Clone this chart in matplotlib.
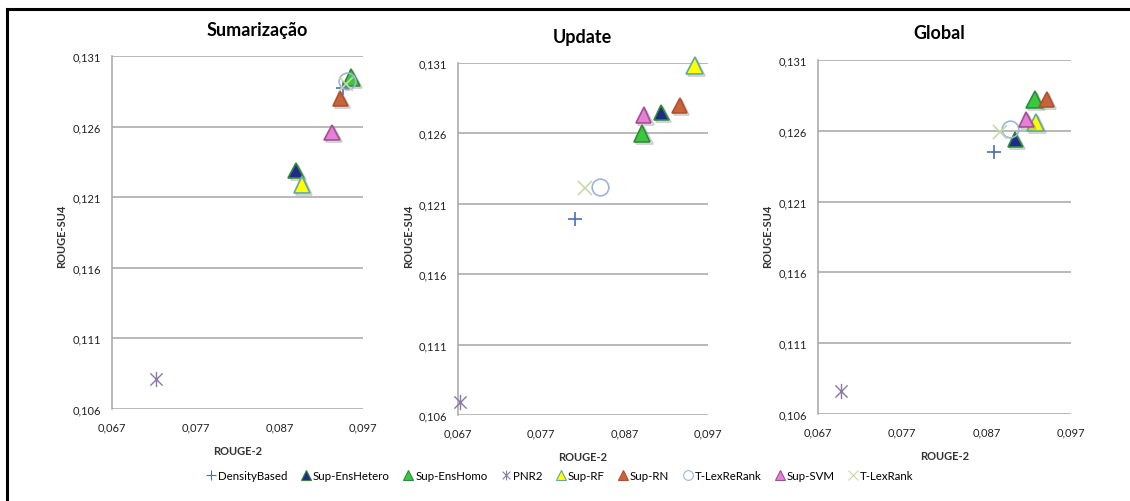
import matplotlib.pyplot as plt
from matplotlib.lines import Line2D
from matplotlib.path import Path
import matplotlib.patheffects as pe

plt.rcParams['font.family'] = ['Lato', 'DejaVu Sans']

# métodos (ordem da legenda)
metodos = ['DensityBased', 'Sup-EnsHetero', 'Sup-EnsHomo', 'PNR2', 'Sup-RF',
           'Sup-RN', 'T-LexReRank', 'Sup-SVM', 'T-LexRank']

# ROUGE-2 (x) e ROUGE-SU4 (y) por painel
sum_x = [0.0946, 0.0890, 0.0956, 0.0722, 0.0897, 0.0943, 0.0951, 0.0933, 0.0950]
sum_y = [0.1287, 0.1229, 0.1295, 0.1081, 0.1219, 0.1280, 0.1292, 0.1256, 0.1290]
upd_x = [0.0810, 0.0914, 0.0891, 0.0673, 0.0954, 0.0936, 0.0841, 0.0893, 0.0822]
upd_y = [0.1199, 0.1275, 0.1260, 0.1069, 0.1308, 0.1280, 0.1222, 0.1273, 0.1221]
glo_x = [0.0879, 0.0904, 0.0927, 0.0697, 0.0928, 0.0941, 0.0898, 0.0917, 0.0886]
glo_y = [0.1245, 0.1254, 0.1282, 0.1076, 0.1266, 0.1282, 0.1261, 0.1268, 0.1259]

titulos = ['Sumarização', 'Update', 'Global']
x_ticks = [0.067, 0.077, 0.087, 0.097]
y_ticks = [0.106, 0.111, 0.116, 0.121, 0.126, 0.131]

# asterisco fino (estilo Excel): x com traço vertical
estrela = Path([(0, -1), (0, 1), (-0.8, -0.8), (0.8, 0.8), (-0.8, 0.8), (0.8, -0.8)],
               [Path.MOVETO, Path.LINETO, Path.MOVETO, Path.LINETO, Path.MOVETO, Path.LINETO])

# estilo de cada marcador: (marker, face, edge, size)
estilos = {
    'DensityBased': ('+', 'none', '#4A6FB5', 10),
    'Sup-EnsHetero': ('^', '#1F2A8C', '#2E8B3A', 11),
    'Sup-EnsHomo': ('^', '#3CC83C', '#2E8B3A', 12),
    'PNR2': (estrela, 'none', '#8A78A8', 11),
    'Sup-RF': ('^', '#FFFF00', '#5FA8A0', 12),
    'Sup-RN': ('^', '#C8643C', '#B05030', 11),
    'T-LexReRank': ('o', 'none', '#9DB4DA', 12),
    'Sup-SVM': ('^', '#E67FD6', '#A05090', 11),
    'T-LexRank': ('x', 'none', '#C8D8A8', 10),
}

fig = plt.figure(figsize=(11.3, 5.02), dpi=100)

posicoes = [
    [112 / 1130, 1 - 410 / 502, 251 / 1130, 353 / 502],
    [458 / 1130, 1 - 416 / 502, 250 / 1130, 352 / 502],
    [818 / 1130, 1 - 415 / 502, 253 / 1130, 354 / 502],
]
dados = [(sum_x, sum_y), (upd_x, upd_y), (glo_x, glo_y)]
titulo_pos = [(257, 31), (582, 38), (939, 34)]
ylabel_x = [62, 409, 768]

sombra = [pe.SimpleLineShadow(offset=(1.5, -1.5), shadow_color='gray', alpha=0.4), pe.Normal()]

for i in range(3):
    ax = fig.add_axes(posicoes[i])
    xs, ys = dados[i]
    for j, m in enumerate(metodos):
        mk, fc, ec, ms = estilos[m]
        efeitos = sombra if mk == '^' else None
        ax.plot(xs[j], ys[j], linestyle='none', marker=mk, markerfacecolor=fc,
                markeredgecolor=ec, markersize=ms,
                markeredgewidth=1.0 if m == 'PNR2' else 1.2,
                clip_on=False, zorder=3, path_effects=efeitos)
    ax.set_xlim(0.067, 0.097)
    ax.set_ylim(0.106, 0.131)
    ax.set_xticks(x_ticks)
    ax.set_yticks(y_ticks)
    ax.set_xticklabels([f'{v:.3f}'.replace('.', ',') for v in x_ticks])
    ax.set_yticklabels([f'{v:.3f}'.replace('.', ',') for v in y_ticks])
    ax.tick_params(length=0, labelsize=8, colors='#222222')
    ax.tick_params(axis='y', pad=8)
    ax.tick_params(axis='x', pad=9)
    ax.grid(axis='y', color='#A6A6A6', linewidth=1.1)
    ax.set_axisbelow(True)
    for s in ['top', 'right', 'bottom']:
        ax.spines[s].set_visible(False)
    ax.spines['left'].set_color('#A6A6A6')
    ax.spines['left'].set_linewidth(1.1)
    ax.set_xlabel('ROUGE-2', fontsize=8, fontweight='bold', color='#333333', labelpad=9)
    tx, ty = titulo_pos[i]
    fig.text(tx / 1130, 1 - ty / 502, titulos[i], ha='center', va='center',
             fontsize=13, fontweight='bold')
    fig.text(ylabel_x[i] / 1130, 1 - 236 / 502, 'ROUGE-SU4', rotation=90,
             ha='center', va='center', fontsize=8, fontweight='bold', color='#333333')

# legenda
handles = []
for m in metodos:
    mk, fc, ec, ms = estilos[m]
    handles.append(Line2D([], [], linestyle='none', marker=mk, markerfacecolor=fc,
                          markeredgecolor=ec, markersize=7, markeredgewidth=0.8))
fig.legend(handles, metodos, loc='center', bbox_to_anchor=(560 / 1130, 1 - 477 / 502),
           ncol=9, frameon=False, fontsize=8.3, handlelength=0.8, handletextpad=0.2,
           columnspacing=1.2)

# bordas
fig.add_artist(Line2D([7 / 1130, 1], [1 - 10 / 502, 1 - 10 / 502], color='black', linewidth=2.2))
fig.add_artist(Line2D([7 / 1130, 7 / 1130], [0, 1 - 10 / 502], color='black', linewidth=2.2))

fig.savefig('out.png', dpi=100)
